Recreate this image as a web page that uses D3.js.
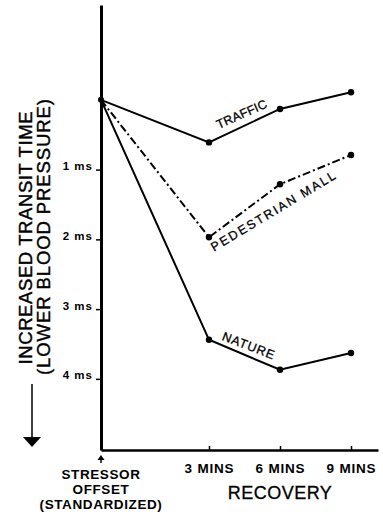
<!DOCTYPE html>
<html>
<head>
<meta charset="utf-8">
<script src="https://cdn.jsdelivr.net/npm/d3@7"></script>
<style>
  body { margin: 0; background: #fff; }
  svg { display: block; font-family: "Liberation Sans", Arial, sans-serif; }
</style>
</head>
<body>
<div id="chart"></div>
<script>
// values (ms of increased transit time)
var timePoints = [0, 3, 6, 9];
var trafficValues = [0, 0.61, 0.13, -0.11];
var mallValues = [0, 1.97, 1.21, 0.79];
var natureValues = [0, 3.44, 3.87, 3.63];
var yTickValues = [1, 2, 3, 4];
var xTickValues = [3, 6, 9];
var xTickLabels = ["3 MINS", "6 MINS", "9 MINS"];
var seriesNames = ["TRAFFIC", "PEDESTRIAN  MALL", "NATURE"];

var width = 383, height = 516;

var svg = d3.select("#chart").append("svg")
  .attr("width", width)
  .attr("height", height);

// offset -> 3 mins gap is wider than the later ones, so piecewise scale
var x = d3.scaleLinear().domain([0, 3, 10.14]).range([101, 209, 378]);
var y = d3.scaleLinear().domain([-1.36, 5.02]).range([5, 450]);

// y axis
var yAxis = svg.append("g")
  .attr("transform", "translate(" + x(0) + ",0)")
  .call(d3.axisLeft(y).tickValues(yTickValues).tickSize(5).tickSizeOuter(0).tickPadding(3)
    .tickFormat(function(d) { return d + " ms"; }));
yAxis.select(".domain").attr("stroke-width", 3);
yAxis.selectAll(".tick line").attr("stroke-width", 1.5);
yAxis.selectAll(".tick text")
  .attr("dy", 0)
  .attr("fill", "#000")
  .style("font-size", "11.5px")
  .style("font-weight", "bold")
  .style("letter-spacing", "1px");

// x axis
var xAxis = svg.append("g")
  .attr("transform", "translate(0," + y.range()[1] + ")")
  .call(d3.axisBottom(x).tickValues(xTickValues).tickSize(-4).tickSizeOuter(0).tickPadding(13)
    .tickFormat(function(d, i) { return xTickLabels[i]; }));
xAxis.select(".domain").attr("stroke-width", 2.5);
xAxis.selectAll(".tick line").attr("stroke-width", 1.5);
xAxis.selectAll(".tick text")
  .attr("fill", "#000")
  .style("font-size", "13.5px")
  .style("font-weight", "bold")
  .style("letter-spacing", "0.8px");

// little up arrow under the origin
svg.append("path")
  .attr("d", "M" + x(0) + "," + 455 + " L" + (x(0) - 3.5) + ",460 L" + (x(0) + 3.5) + ",460 Z")
  .attr("fill", "#000");
svg.append("line")
  .attr("x1", x(0)).attr("x2", x(0)).attr("y1", 458).attr("y2", 463)
  .attr("stroke", "#000").attr("stroke-width", 1.5);

// stressor offset label
var offsetLines = ["STRESSOR", "OFFSET", "(STANDARDIZED)"];
var offsetY = [479, 494, 509];
svg.selectAll(".offset")
  .data(offsetLines)
  .enter()
  .append("text")
  .attr("class", "offset")
  .attr("x", x(0))
  .attr("y", function(d, i) { return offsetY[i]; })
  .attr("text-anchor", "middle")
  .style("font-size", "13.5px")
  .style("font-weight", "bold")
  .style("letter-spacing", "0.6px")
  .text(function(d) { return d; });

svg.append("text")
  .attr("x", x(6))
  .attr("y", 499)
  .attr("text-anchor", "middle")
  .style("font-size", "18px")
  .style("letter-spacing", "0.5px")
  .attr("stroke", "#000")
  .attr("stroke-width", 0.3)
  .text("RECOVERY");

// y title, two lines
svg.append("text")
  .attr("transform", "translate(32,238) rotate(-90)")
  .attr("text-anchor", "middle")
  .attr("textLength", 253)
  .attr("lengthAdjust", "spacing")
  .attr("stroke", "#000")
  .attr("stroke-width", 0.4)
  .style("font-size", "18.5px")
  .text("INCREASED TRANSIT TIME");
svg.append("text")
  .attr("transform", "translate(50,237) rotate(-90)")
  .attr("text-anchor", "middle")
  .attr("textLength", 276)
  .attr("lengthAdjust", "spacing")
  .attr("stroke", "#000")
  .attr("stroke-width", 0.4)
  .style("font-size", "18.5px")
  .text("(LOWER BLOOD PRESSURE)");

// down arrow
svg.append("line")
  .attr("x1", 32).attr("x2", 32).attr("y1", 384).attr("y2", 440)
  .attr("stroke", "#000").attr("stroke-width", 1.5);
svg.append("path")
  .attr("d", "M23,437 L41,437 L32,447 Z")
  .attr("fill", "#000");

// series
var line = d3.line()
  .x(function(d) { return x(d[0]); })
  .y(function(d) { return y(d[1]); });

var series = [trafficValues, mallValues, natureValues];
var dashes = [null, "8,3,2,3", null];

series.forEach(function(vals, k) {
  var pts = timePoints.map(function(t, i) { return [t, vals[i]]; });
  svg.append("path")
    .datum(pts)
    .attr("d", line)
    .attr("fill", "none")
    .attr("stroke", "#000")
    .attr("stroke-width", 2)
    .attr("stroke-dasharray", dashes[k]);
  svg.selectAll(".pt" + k)
    .data(pts.slice(1))
    .enter()
    .append("circle")
    .attr("class", "pt" + k)
    .attr("cx", function(d) { return x(d[0]); })
    .attr("cy", function(d) { return y(d[1]); })
    .attr("r", 3.2)
    .attr("fill", "#000");
});

svg.append("circle")
  .attr("cx", x(0)).attr("cy", y(0)).attr("r", 3)
  .attr("fill", "#000");

// series labels sit along their segments
var labelPos = [
  {t: 4.45, v: 0.26, a: -24, len: 54},
  {t: 5.8, v: 1.65, a: -31, len: 143},
  {t: 4.6, v: 3.58, a: 21, len: 55}
];
labelPos.forEach(function(p, k) {
  svg.append("text")
    .attr("transform", "translate(" + x(p.t) + "," + y(p.v) + ") rotate(" + p.a + ")")
    .attr("text-anchor", "middle")
    .attr("textLength", p.len)
    .attr("lengthAdjust", "spacing")
    .attr("stroke", "#000")
    .attr("stroke-width", 0.3)
    .style("font-size", "12.5px")
    .text(seriesNames[k]);
});
</script>
</body>
</html>
